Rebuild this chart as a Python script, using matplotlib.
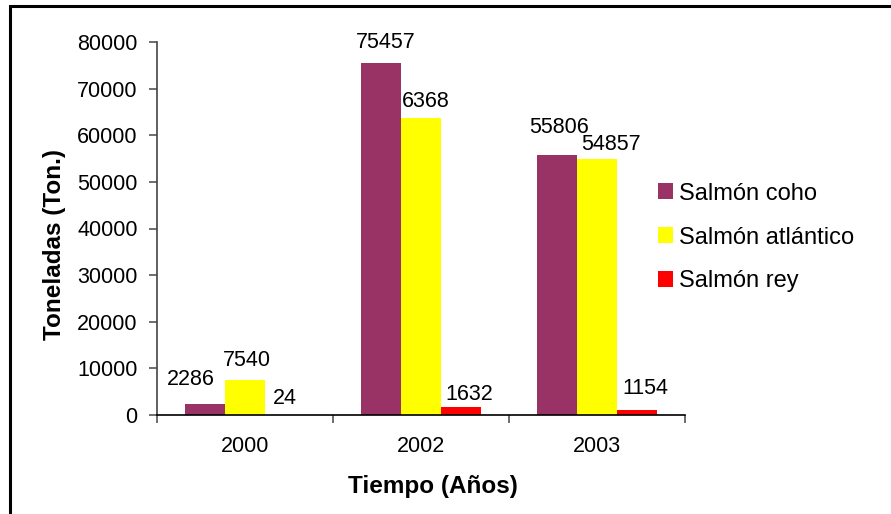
import matplotlib
matplotlib.use("Agg")
import matplotlib.pyplot as plt
from matplotlib.patches import Rectangle
import numpy as np

plt.rcParams['font.family'] = ['Liberation Sans', 'DejaVu Sans']

years = ["2000", "2002", "2003"]
series_names = ["Salmón coho", "Salmón atlántico", "Salmón rey"]
coho = [2286, 75457, 55806]
atlantico = [7540, 63680, 54857]
rey = [24, 1632, 1154]
# text printed above each bar, per series
coho_labels = ["2286", "75457", "55806"]
atlantico_labels = ["7540", "6368", "54857"]
rey_labels = ["24", "1632", "1154"]

colors = ["#993366", "#FFFF00", "#FF0000"]

W, H = 891, 514
fig = plt.figure(figsize=(W / 100, H / 100), dpi=100)
fig.patch.set_facecolor("white")

# outer frame (top and left edges visible)
fig.add_artist(Rectangle((10 / W, -0.2), 1.2, 1 - 6 / H + 0.2,
                         transform=fig.transFigure, fill=False,
                         edgecolor="black", linewidth=2.2))

ax = fig.add_axes([157 / W, 1 - 415 / H, (685 - 157) / W, (415 - 42) / H])

x = np.arange(len(years))
bw = 0.227
all_vals = [coho, atlantico, rey]
all_labels = [coho_labels, atlantico_labels, rey_labels]
# small nudges (pixels) so neighbouring labels don't collide
nudges = [
    [(-14, 6), (5, 2), (2, 8)],
    [(2, 0), (5, -2), (14, -4)],
    [(0, -3), (8, -6), (8, 2)],
]
for i, (vals, labs) in enumerate(zip(all_vals, all_labels)):
    xs = x + (i - 1) * bw
    ax.bar(xs, vals, width=bw, color=colors[i], label=series_names[i],
           edgecolor="none", zorder=2)
    for j, (xx, v, t) in enumerate(zip(xs, vals, labs)):
        dx, dy = nudges[i][j]
        ax.annotate(t, (xx, v), xytext=(dx * 0.72, (19 + dy) * 0.72),
                    textcoords="offset points", ha="center", va="center",
                    fontsize=15.5, color="black")

ax.set_xlim(-0.5, len(years) - 0.5)
ax.set_ylim(0, 80000)
ax.set_yticks(np.arange(0, 80001, 10000))
ax.set_yticklabels([str(v) for v in range(0, 80001, 10000)])
ax.set_xticks(x)
ax.set_xticklabels(years)
ax.set_xticks(np.arange(-0.5, len(years), 1.0), minor=True)
ax.tick_params(axis="x", which="major", length=0, pad=15, labelsize=15.5)
ax.tick_params(axis="x", which="minor", length=6, width=1.2, direction="out",
               color="#555555")
ax.tick_params(axis="y", length=6, width=1.2, direction="out", color="#555555",
               labelsize=15.5, pad=8)

for s in ["top", "right"]:
    ax.spines[s].set_visible(False)
ax.spines["left"].set_color("#444444")
ax.spines["left"].set_linewidth(1.2)
ax.spines["bottom"].set_color("black")
ax.spines["bottom"].set_linewidth(1.2)

ax.set_xlabel("Tiempo (Años)", fontsize=17.5, fontweight="bold", labelpad=13)
ax.set_ylabel("Toneladas (Ton.)", fontsize=17.5, fontweight="bold", labelpad=8)
ax.xaxis.label.set_x(0.523)
ax.yaxis.label.set_y(0.456)

leg = fig.legend(*ax.get_legend_handles_labels(), loc="center left",
                 bbox_to_anchor=(658 / W, 1 - 237.5 / H), frameon=False,
                 fontsize=17, handlelength=0.65, handleheight=0.65,
                 handletextpad=0.22, labelspacing=0.93, borderpad=0,
                 borderaxespad=0)

fig.savefig("out.png", dpi=100)
